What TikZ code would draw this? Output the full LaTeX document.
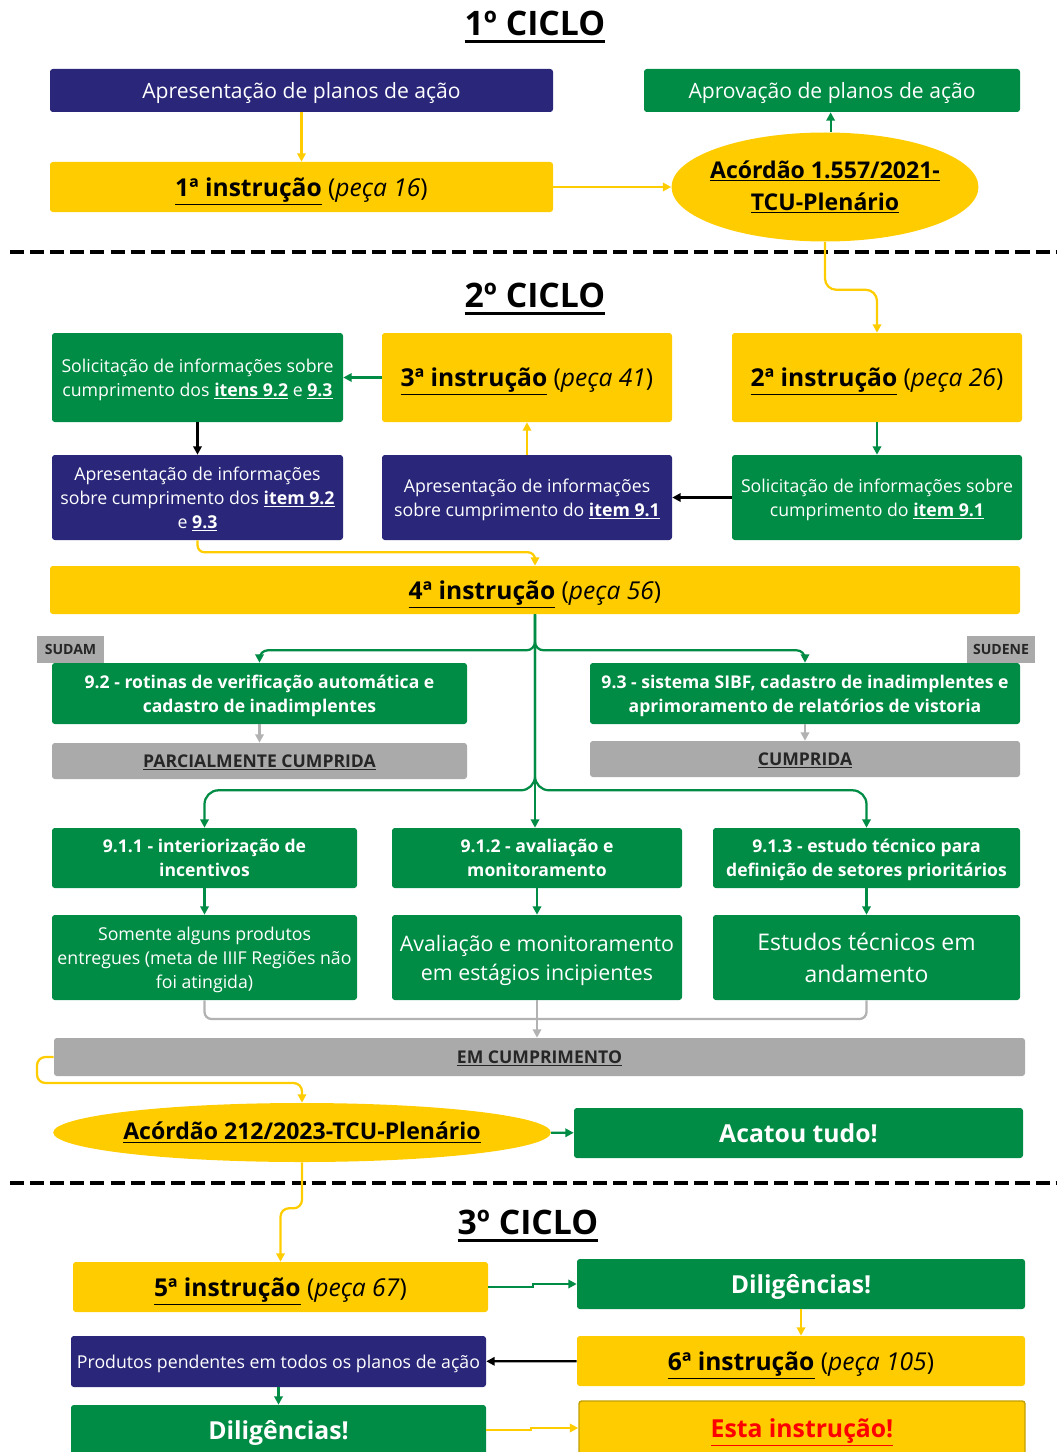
\documentclass[tikz,border=0pt]{standalone}
\usepackage{fontspec}
\setmainfont{Open Sans}
\usetikzlibrary{arrows.meta, positioning, shapes.geometric}

\definecolor{navy}{RGB}{42,39,122}
\definecolor{tcgreen}{RGB}{0,140,68}
\definecolor{tcyellow}{RGB}{255,204,0}
\definecolor{tcgray}{RGB}{170,170,170}
\definecolor{linegray}{RGB}{178,178,178}
\definecolor{edgeyellow}{RGB}{196,160,0}

\newcommand{\instr}[2]{\textbf{\underline{#1 instrução}} (\textit{peça #2})}
\newcommand{\itm}[1]{\textbf{\underline{#1}}}
\newcommand{\thickul}[1]{\setbox0=\hbox{#1}\leavevmode\rlap{\vrule width\wd0 height-3pt depth 5.4pt}\box0}

\begin{document}
\begin{tikzpicture}[
        x=0.025cm, y=-0.025cm,
        box/.style={
            rectangle,
            rounded corners=2pt,
            inner sep=2pt,
            text depth=0pt,
            align=center
        },
        wh/.style 2 args={minimum width=#1*0.025cm, minimum height=#2*0.025cm},
        navybox/.style={box, fill=navy, text=white},
        greenbox/.style={box, fill=tcgreen, text=white},
        yellowbox/.style={box, fill=tcyellow, text=black},
        graybox/.style={box, fill=tcgray, text=black!85},
        ellipsebox/.style={ellipse, fill=tcyellow, inner ysep=0pt, align=center,
            font=\fontsize{16.4}{22.7}\selectfont\bfseries},
        cycletitle/.style={font=\fontsize{24}{28}\selectfont\bfseries},
        plain/.style={font=\fontsize{15}{18}\selectfont},
        instfont/.style={font=\fontsize{17.5}{21}\selectfont},
        small/.style={font=\fontsize{12.6}{17}\selectfont},
        smallbold/.style={font=\fontsize{12.5}{17}\selectfont\bfseries},
        big/.style={font=\fontsize{15.2}{20.6}\selectfont},
        bigbold/.style={font=\fontsize{17.6}{21}\selectfont\bfseries},
        tag/.style={box, rounded corners=0pt, fill=tcgray, text=black!85,
            font=\fontsize{10}{12}\selectfont\bfseries},
        line/.style={line width=1.6pt},
        yline/.style={line, draw=tcyellow},
        gline/.style={line, draw=tcgreen},
        grline/.style={line, draw=linegray},
        yarrow/.style={yline, -{Triangle[length=6pt, width=6pt]}},
        garrow/.style={gline, -{Triangle[length=6pt, width=6pt]}},
        grarrow/.style={grline, -{Triangle[length=6pt, width=6pt]}},
        karrow/.style={line, draw=black, -{Triangle[length=6pt, width=6pt]}},
        sepline/.style={line width=2.8pt, dash pattern=on 10pt off 4.3pt}
    ]
    \useasboundingbox (0,0) rectangle (1057,1452);

    % 1o ciclo
    \node[cycletitle] (c1) at (535,27) {\thickul{1º CICLO}};
    \node[navybox, wh={503}{43}, plain] (ap1) at (301.5,90.5) {Apresentação de planos de ação};
    \node[greenbox, wh={376}{43}, plain] (apv) at (832,90.5) {Aprovação de planos de ação};
    \node[yellowbox, wh={503}{50}, instfont] (t1) at (301.5,187) {\instr{1ª}{16}};
    \node[ellipsebox, inner xsep=-4.5pt, wh={306}{109}] (a1) at (825,187) {\underline{Acórdão 1.557/2021-}\\\underline{TCU-Plenário}};

    \draw[yarrow] (ap1) -- (t1);
    \draw[yarrow] (t1) -- (a1);
    \draw[garrow] ([xshift=4pt]a1.north) -- ([xshift=4pt]apv.south -| a1.north);

    \draw[sepline] (10,252) -- (1057,252);

    % 2o ciclo
    \node[cycletitle] (c2) at (535,299) {\thickul{2º CICLO}};
    \node[greenbox, wh={291}{89}, small] (sol23) at (197.5,377.5)
        {Solicitação de informações sobre\\cumprimento dos \itm{itens 9.2} e \itm{9.3}};
    \node[yellowbox, wh={290}{89}, instfont] (t3) at (527,377.5) {\instr{3ª}{41}};
    \node[yellowbox, wh={290}{89}, instfont] (t2) at (877,377.5) {\instr{2ª}{26}};
    \node[navybox, wh={291}{85}, small] (p23) at (197.5,497.5)
        {Apresentação de informações\\sobre cumprimento dos \itm{item 9.2}\\e \itm{9.3}};
    \node[navybox, wh={290}{85}, small] (p1) at (527,497.5)
        {Apresentação de informações\\sobre cumprimento do \itm{item 9.1}};
    \node[greenbox, wh={290}{85}, small] (sol1) at (877,497.5)
        {Solicitação de informações sobre\\cumprimento do \itm{item 9.1}};
    \node[yellowbox, wh={970}{48}, instfont] (t4) at (535,590) {\instr{4ª}{56}};

    \draw[yarrow, rounded corners=8pt] (a1.south) -- ++(0,48) -| (t2.north);
    \draw[garrow] (t3) -- (sol23);
    \draw[karrow] (sol23) -- (p23);
    \draw[yarrow] (p1) -- (t3);
    \draw[garrow] (t2) -- (sol1);
    \draw[karrow] (sol1) -- (p1);
    \draw[yarrow, rounded corners=5pt] (p23.south) -- ++(0,12) -| (t4.north);

    % itens 9.2 e 9.3
    \node[tag, wh={67}{27}] (sudam) at (70.5,649.5) {SUDAM};
    \node[tag, wh={68}{27}] (sudene) at (1001,649.5) {SUDENE};
    \node[greenbox, wh={415}{61}, smallbold] (b92) at (259.5,693.5)
        {9.2 - rotinas de verificação automática e\\cadastro de inadimplentes};
    \node[greenbox, wh={430}{61}, smallbold] (b93) at (805,693.5)
        {9.3 - sistema SIBF, cadastro de inadimplentes e\\aprimoramento de relatórios de vistoria};
    \node[graybox, wh={415}{36}, smallbold] (st92) at (259.5,761) {\underline{PARCIALMENTE CUMPRIDA}};
    \node[graybox, wh={430}{36}, smallbold] (st93) at (805,759) {\underline{CUMPRIDA}};

    % itens 9.1.x
    \node[greenbox, wh={305}{60}, smallbold] (b911) at (204.5,858) {9.1.1 - interiorização de\\incentivos};
    \node[greenbox, wh={290}{60}, smallbold] (b912) at (537,858) {9.1.2 - avaliação e\\monitoramento};
    \node[greenbox, wh={307}{60}, smallbold] (b913) at (866.5,858)
        {9.1.3 - estudo técnico para\\definição de setores prioritários};
    \node[greenbox, wh={305}{85}, small] (r911) at (204.5,957.5)
        {Somente alguns produtos\\entregues (meta de IIIF Regiões não\\foi atingida)};
    \node[greenbox, wh={290}{85}, big] (r912) at (537,957.5) {Avaliação e monitoramento\\em estágios incipientes};
    \node[greenbox, wh={307}{85}, font=\fontsize{16.3}{22.7}\selectfont] (r913) at (866.5,957.5)
        {Estudos técnicos em\\andamento};
    \node[graybox, wh={971}{38}, smallbold] (emc) at (539.5,1057) {\underline{EM CUMPRIMENTO}};

    \coordinate (merge) at (539,1019);
    \draw[garrow, rounded corners=6pt] (t4.south) -- ++(0,36) -| (b92.north);
    \draw[garrow, rounded corners=6pt] (t4.south) -- ++(0,36) -| (b93.north);
    \draw[garrow, rounded corners=10pt] (t4.south) -- ++(0,176) -| (b911.north);
    \draw[garrow, rounded corners=10pt] (t4.south) -- ++(0,176) -| (b913.north);
    \draw[garrow] (t4.south) -- (t4.south |- b912.north);
    \draw[grarrow] (b92) -- (st92);
    \draw[grarrow] (b93) -- (st93);
    \draw[garrow] (b911) -- (r911);
    \draw[garrow] (b912) -- (r912);
    \draw[garrow] (b913) -- (r913);
    \draw[grline, rounded corners=5pt] (r911.south) |- (merge) -| (r913.south);
    \draw[grarrow] (r912.south) -- (r912.south |- emc.north);

    \node[ellipsebox, inner xsep=-2pt, wh={496}{59}] (a2) at (302,1132.5) {\underline{Acórdão 212/2023-TCU-Plenário}};
    \node[greenbox, wh={449}{50}, bigbold] (acatou) at (798.5,1133) {Acatou tudo!};

    \coordinate (k7) at (37,1083);
    \draw[yarrow, rounded corners=6pt] (emc.west) -| (k7) -| (a2.north);
    \draw[garrow] (a2) -- (acatou);

    \draw[sepline] (10,1183) -- (1057,1183);

    % 3o ciclo
    \node[cycletitle] (c3) at (528,1226) {\thickul{3º CICLO}};
    \node[yellowbox, wh={415}{50}, instfont] (t5) at (280.5,1287) {\instr{5ª}{67}};
    \node[greenbox, wh={448}{50}, bigbold] (d1) at (801,1284) {Diligências!};
    \node[yellowbox, wh={448}{50}, instfont] (t6) at (801,1361) {\instr{6ª}{105}};
    \node[navybox, wh={415}{51}, small] (prod) at (278.5,1361.5) {Produtos pendentes em todos os planos de ação};
    \node[greenbox, wh={415}{50}, bigbold] (d2) at (278.5,1430) {Diligências!};
    \node[yellowbox, draw=edgeyellow, line width=1pt, wh={446}{54}, bigbold] (esta) at (802,1428)
        {\textcolor{red}{\underline{Esta instrução!}}};

    \draw[yarrow, rounded corners=6pt] (a2.south) -- ++(0,46) -| (t5.north);
    \draw[garrow] (t5.east) -- ++(45,0) |- (d1.west);
    \draw[yarrow] (d1) -- (t6);
    \draw[karrow] (t6) -- (prod);
    \draw[garrow] (prod) -- (d2);
    \draw[yarrow] (d2.east) -- ++(45,0) |- (esta.west);

\end{tikzpicture}
\end{document}
